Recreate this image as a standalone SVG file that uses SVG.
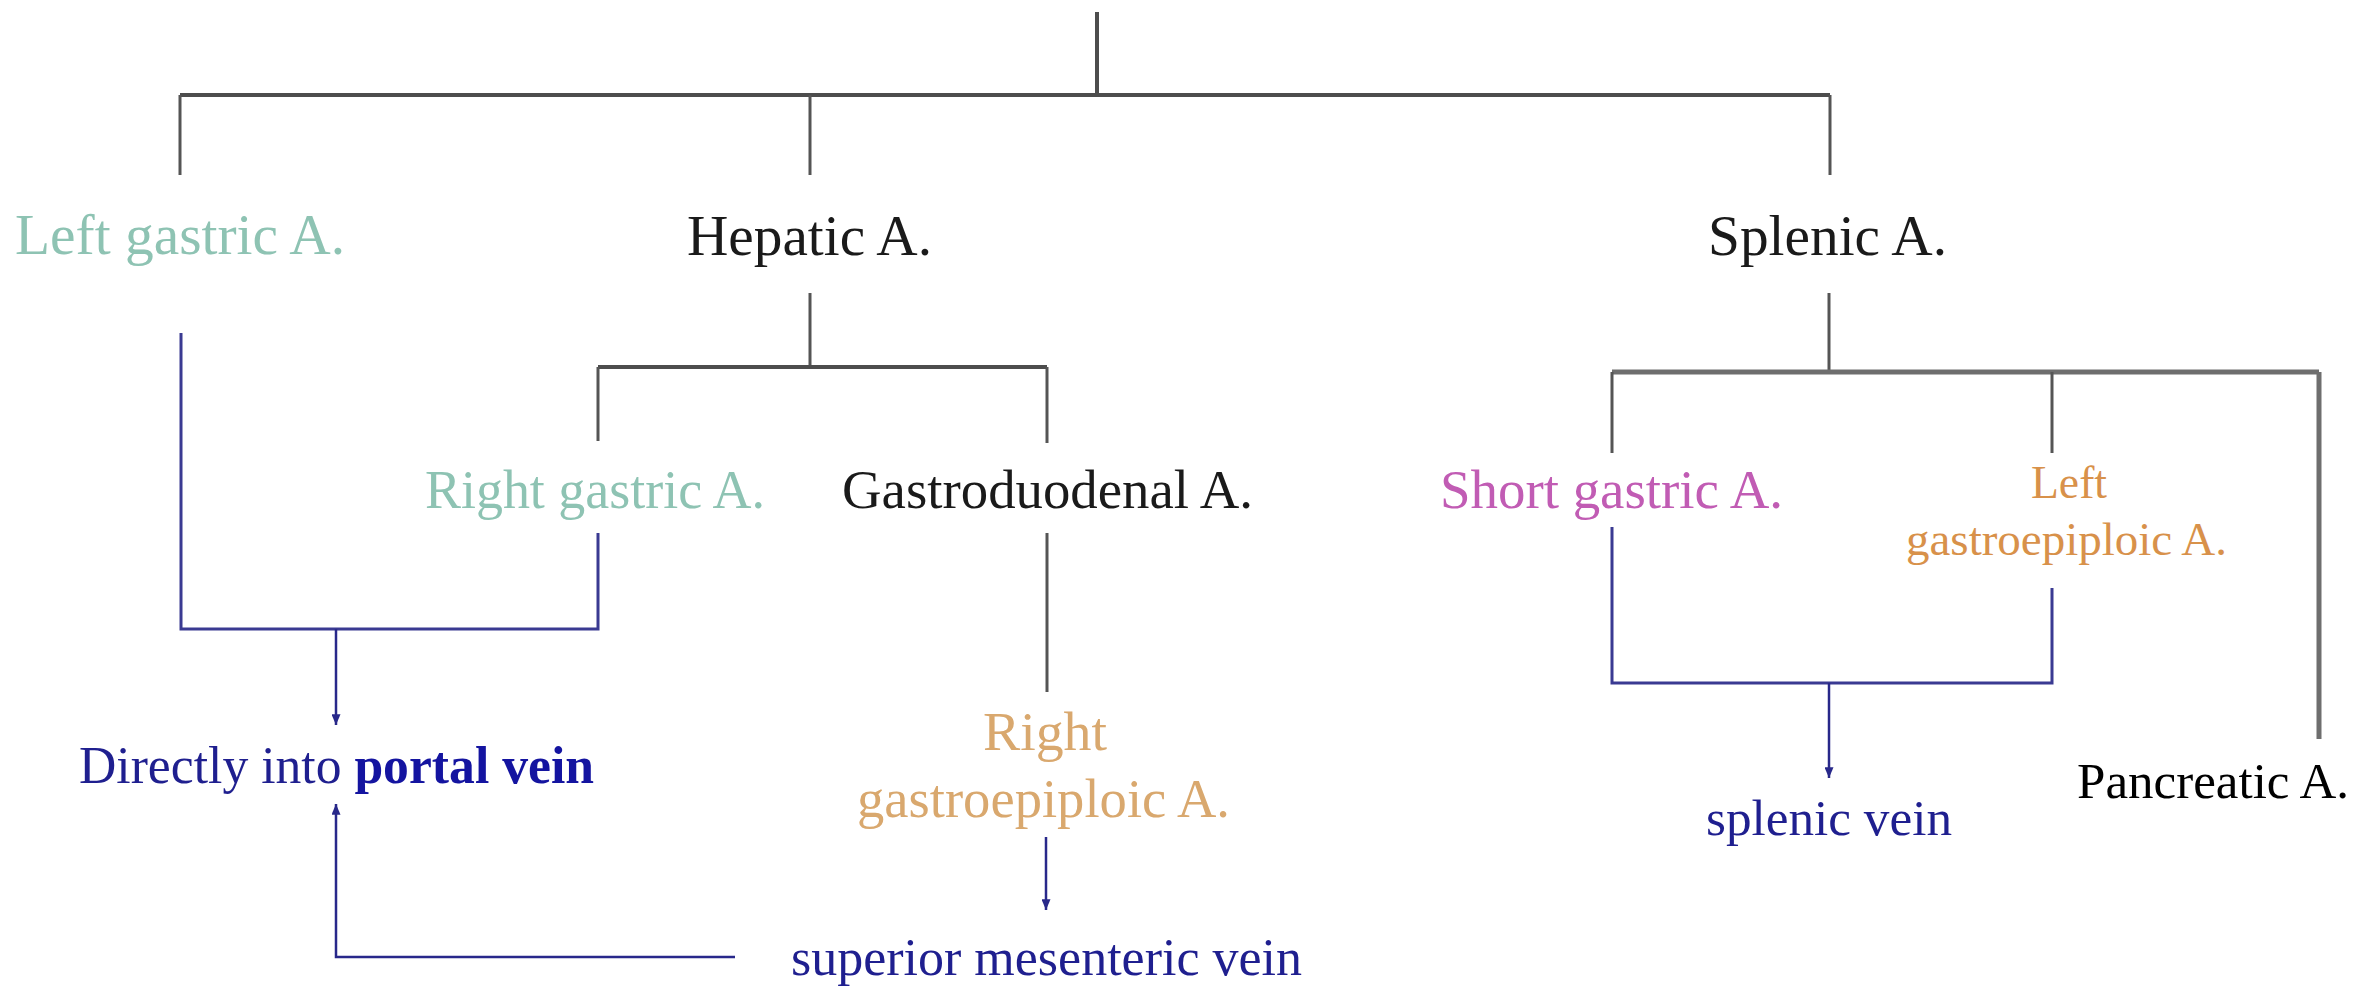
<svg xmlns="http://www.w3.org/2000/svg" width="2369" height="988" viewBox="0 0 2369 988">
<style>
text{font-family:"Liberation Serif","Times New Roman","DejaVu Serif",serif;}
.g{stroke:#555;fill:none;stroke-width:3}
.gt{stroke:#4d4d4d;fill:none;stroke-width:4}
.gk{stroke:#6e6e6e;fill:none;stroke-width:5}
.b{stroke:#3a3a92;fill:none;stroke-width:3}
.ba{stroke:#28288a;fill:none;stroke-width:2.5;marker-end:url(#arr)}
.teal{fill:#8ec3b3}
.blk{fill:#1a1a1a}
.org{fill:#d8914a}
.tan{fill:#d9a86e}
.mag{fill:#c15cb4}
.nv{fill:#1f1f8f}
</style>
<defs>
<marker id="arr" viewBox="0 0 12 10" refX="12" refY="5" markerWidth="13" markerHeight="9" markerUnits="userSpaceOnUse" orient="auto">
<path d="M0,0 L12,5 L0,10 z" fill="#28288a"/>
</marker>
</defs>
<rect width="2369" height="988" fill="#fff"/>
<g id="connectors">
<path class="gt" d="M1097,12 V95"/>
<path class="gt" d="M180,95 H1830"/>
<path class="g" d="M180,95 V175"/>
<path class="g" d="M810,95 V175"/>
<path class="g" d="M1830,95 V175"/>
<path class="g" d="M810,293 V367"/>
<path class="gt" d="M598,367 H1047"/>
<path class="g" d="M598,367 V441"/>
<path class="g" d="M1047,367 V443"/>
<path class="g" d="M1047,533 V692"/>
<path class="g" d="M1829,293 V372"/>
<path class="gk" d="M1612,372 H2319"/>
<path class="g" d="M1612,372 V453"/>
<path class="g" d="M2052,372 V453"/>
<path class="gk" d="M2319,372 V739"/>
<path class="b" d="M181,333 V629 H598 V533"/>
<path class="ba" d="M336,629 V725"/>
<path class="ba" d="M735,957 H336 V804"/>
<path class="ba" d="M1046,837 V910"/>
<path class="b" d="M1612,527 V683 H2052 V588"/>
<path class="ba" d="M1829,683 V778"/>
</g>
<g font-family="Liberation Serif, Times New Roman, DejaVu Serif, serif">
<g id="left-gastric"><text class="teal" x="15" y="254" font-size="57" textLength="330" lengthAdjust="spacingAndGlyphs">Left gastric A.</text></g>
<g id="hepatic"><text class="blk" x="687" y="255" font-size="57" textLength="245" lengthAdjust="spacingAndGlyphs">Hepatic A.</text></g>
<g id="splenic"><text class="blk" x="1708" y="255" font-size="57" textLength="239" lengthAdjust="spacingAndGlyphs">Splenic A.</text></g>
<g id="right-gastric"><text class="teal" x="425" y="508" font-size="54" textLength="340" lengthAdjust="spacingAndGlyphs">Right gastric A.</text></g>
<g id="gastroduodenal"><text class="blk" x="842" y="508" font-size="54" textLength="411" lengthAdjust="spacingAndGlyphs">Gastroduodenal A.</text></g>
<g id="short-gastric"><text class="mag" x="1440" y="508" font-size="54" textLength="343" lengthAdjust="spacingAndGlyphs">Short gastric A.</text></g>
<g id="left-gastroepiploic">
<text class="org" x="2031" y="498" font-size="47" textLength="76" lengthAdjust="spacingAndGlyphs">Left</text>
<text class="org" x="1906" y="555" font-size="47" textLength="321" lengthAdjust="spacingAndGlyphs">gastroepiploic A.</text>
</g>
<g id="right-gastroepiploic">
<text class="tan" x="983" y="750" font-size="55" textLength="124" lengthAdjust="spacingAndGlyphs">Right</text>
<text class="tan" x="857" y="817" font-size="55" textLength="373" lengthAdjust="spacingAndGlyphs">gastroepiploic A.</text>
</g>
<g id="portal-vein"><text class="nv" x="79" y="783" font-size="52" textLength="515" lengthAdjust="spacingAndGlyphs">Directly into <tspan font-weight="bold" fill="#1414a0">portal vein</tspan></text></g>
<g id="superior-mesenteric-vein"><text class="nv" x="791" y="975" font-size="52" textLength="511" lengthAdjust="spacingAndGlyphs">superior mesenteric vein</text></g>
<g id="splenic-vein"><text class="nv" x="1706" y="835" font-size="51" textLength="246" lengthAdjust="spacingAndGlyphs">splenic vein</text></g>
<g id="pancreatic"><text fill="#000" x="2077" y="798" font-size="51" textLength="272" lengthAdjust="spacingAndGlyphs">Pancreatic A.</text></g>
</g>
</svg>
